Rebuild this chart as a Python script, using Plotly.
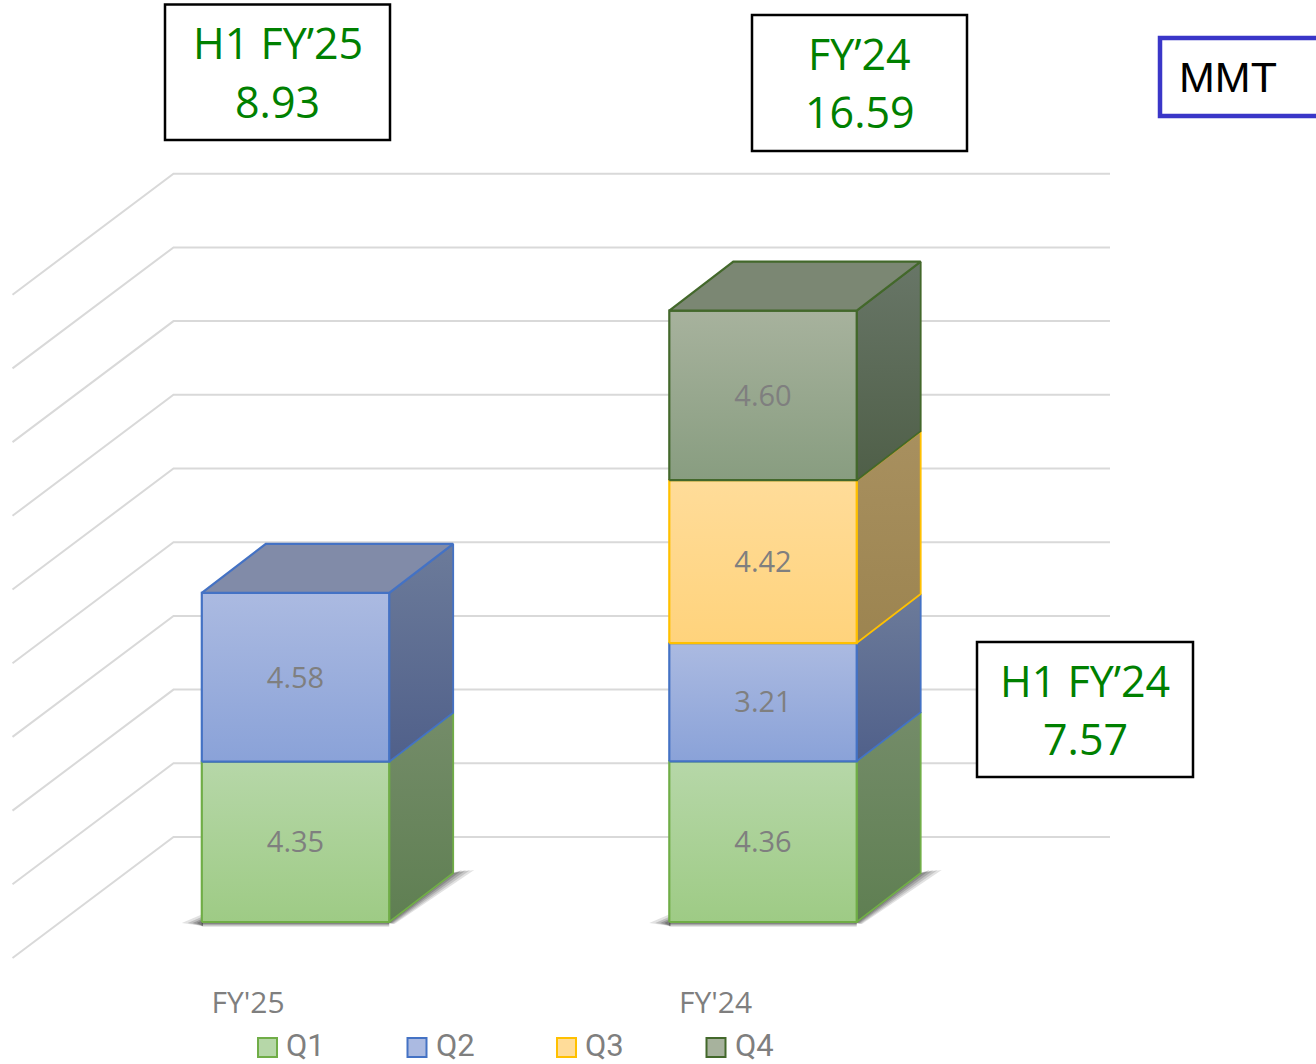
import plotly.graph_objects as go

# ---- data ----
categories = ["FY'25", "FY'24"]
quarters = ["Q1", "Q2", "Q3", "Q4"]
q1 = [4.35, 4.36]
q2 = [4.58, 3.21]
q3 = [None, 4.42]
q4 = [None, 4.60]
series = [q1, q2, q3, q4]
grid_values = [0, 2, 4, 6, 8, 10, 12, 14, 16, 18]

# ---- styles ----
W, H = 1316, 1064
FONT = "Open Sans"
GREY = "#7f7f7f"
GREEN = "#008000"
edge = ["#70ad47", "#4472c4", "#ffc000", "#43682b"]
front = [("#b6d7a8", "#9ecb85"), ("#abbae1", "#8aa2d8"), ("#ffdc99", "#ffd37c"), ("#a7b29d", "#889d80")]
side = [("#748c69", "#5f7f52"), ("#6c7b9a", "#50608a"), ("#a8905f", "#9c8450"), ("#687667", "#4f5f48")]
top = ["#7f8f78", "#818ba8", "#a8905f", "#7b8773"]

# ---- projection geometry (pixels per data unit) ----
PX_X = 467.5          # pixels between categories
PX_Y = 36.85          # pixels per value unit
X0_PX, Y0_PX = 295.5, 922   # pixel of category 0 / value 0
HALF = 93.7 / PX_X    # half bar width
DX, DY = 64 / PX_X, 49 / PX_Y   # bar depth
WALL_BACK = (837 - Y0_PX) / -PX_Y
WALL_FRONT = (958 - Y0_PX) / -PX_Y
WALL_L = (173.5 - X0_PX) / PX_X
WALL_R = (1110 - X0_PX) / PX_X
WALL_FL = (12.5 - X0_PX) / PX_X
LABEL_DROP = 3 / PX_Y
xr = [(0 - X0_PX) / PX_X, (W - X0_PX) / PX_X]
yr = [(Y0_PX - H) / PX_Y, Y0_PX / PX_Y]


def px(x):
    return x / W


def py(y):
    return 1 - y / H


fig = go.Figure()


def poly(xs, ys, color=None, grad=None, line=None, lw=2):
    kw = dict(x=xs + xs[:1], y=ys + ys[:1], mode="lines", fill="toself", showlegend=False, hoverinfo="skip",
              line=dict(color=line or "rgba(0,0,0,0)", width=lw))
    if grad:
        kw["fillgradient"] = dict(type="vertical", colorscale=[[0, grad[1]], [1, grad[0]]])
    else:
        kw["fillcolor"] = color
    fig.add_trace(go.Scatter(**kw))


# back wall and side wall grid lines
for v in grid_values:
    fig.add_trace(go.Scatter(x=[WALL_FL, WALL_L, WALL_R],
                             y=[v + WALL_FRONT, v + WALL_BACK, v + WALL_BACK],
                             mode="lines", line=dict(color="#d9d9d9", width=2),
                             showlegend=False, hoverinfo="skip"))

# bars
for i, cat in enumerate(categories):
    l, r = i - HALF, i + HALF
    ux, uy = 1 / PX_X, 1 / PX_Y
    # contact shadow, built from layers that fade outward
    for reach, alpha in ((21, 0.14), (17, 0.16), (13, 0.2), (9, 0.24), (5, 0.28)):
        poly([r - 3 * ux, r + DX, r + DX + reach * ux, r + reach * 0.25 * ux],
             [-1 * uy, DY, DY + 3 * uy, -reach * 0.1 * uy],
             color=f"rgba(50,50,50,{alpha})")
    for reach, alpha in ((20, 0.14), (14, 0.2), (9, 0.26), (5, 0.3)):
        poly([l - reach * ux, l + ux, l + ux], [-1 * uy, 8 * uy * reach / 20, -4 * uy],
             color=f"rgba(50,50,50,{alpha})")
    for depth, alpha in ((5, 0.12), (4, 0.16), (3, 0.22), (2, 0.3)):
        poly([l, r, r, l], [0, 0, -depth * uy, -depth * uy], color=f"rgba(50,50,50,{alpha})")

    base = 0
    last = max(k for k, s in enumerate(series) if s[i] is not None)
    for k, s in enumerate(series):
        v = s[i]
        if v is None:
            continue
        t = base + v
        # side face
        poly([r, r + DX, r + DX, r], [base, base + DY, t + DY, t], grad=side[k], line=edge[k], lw=1.8)
        # front face
        poly([l, r, r, l], [base, base, t, t], grad=front[k], line=edge[k], lw=2.2)
        if k == last:
            poly([l, r, r + DX, l + DX], [t, t, t + DY, t + DY], color=top[k], line=edge[k], lw=2.2)
        base = t

# value labels
for k, s in enumerate(series):
    xs, ys, txt = [], [], []
    for i in range(len(categories)):
        if s[i] is None:
            continue
        b = sum(series[j][i] or 0 for j in range(k))
        xs.append(i)
        ys.append(b + s[i] / 2 - LABEL_DROP)
        txt.append(f"{s[i]:.2f}")
    fig.add_trace(go.Scatter(x=xs, y=ys, text=txt, mode="text", textposition="middle center",
                             textfont=dict(family=FONT, size=29, color=GREY),
                             name=quarters[k], showlegend=False, hoverinfo="skip"))

shapes, annos = [], []


def box(x0, y0, x1, y1, color="black", width=2.5):
    shapes.append(dict(type="rect", xref="paper", yref="paper", x0=px(x0), x1=px(x1), y0=py(y1), y1=py(y0),
                       line=dict(color=color, width=width), fillcolor="white", layer="above"))


def label(x, y, text, size, color, anchor="center", family=FONT):
    annos.append(dict(xref="paper", yref="paper", x=px(x), y=py(y), text=text, showarrow=False,
                      xanchor=anchor, yanchor="middle", font=dict(family=family, size=size, color=color)))


box(165, 4.5, 390, 140)
label(277.5, 43, "H1 FY’25", 43, GREEN)
label(277.5, 101, "8.93", 43, GREEN)
box(752, 15, 967, 151)
label(859.5, 54, "FY’24", 43, GREEN)
label(859.5, 111, "16.59", 43, GREEN)
box(977, 642, 1193, 777)
label(1084.5, 680, "H1 FY’24", 43, GREEN)
label(1085, 738, "7.57", 43, GREEN)
box(1160, 38, 1325, 116, color="#3a36c8", width=4.5)
label(1227.5, 77.5, "MMT", 43, "black", family="Liberation Sans")

# legend
for k, q in enumerate(quarters):
    x0 = 258 + 149.5 * k
    shapes.append(dict(type="rect", xref="paper", yref="paper", x0=px(x0), x1=px(x0 + 19), y0=py(1057), y1=py(1038),
                       line=dict(color=edge[k], width=2), fillcolor=front[k][0], layer="above"))
    label(x0 + 26, 1045.5, q, 31, GREY, anchor="left", family="Roboto")

fig.update_layout(
    width=W, height=H, margin=dict(l=0, r=0, t=0, b=0), autosize=False,
    paper_bgcolor="white", plot_bgcolor="white", showlegend=False,
    shapes=shapes, annotations=annos,
    xaxis=dict(range=xr, showgrid=False, zeroline=False, showline=False, ticks="",
               tickmode="array", tickvals=[i - 47.5 / PX_X for i in range(len(categories))], ticktext=categories,
               tickfont=dict(family=FONT, size=30, color=GREY),
               anchor="free", position=(H - 982) / H),
    yaxis=dict(range=yr, showgrid=False, zeroline=False, showline=False, showticklabels=False, ticks=""),
)

fig.write_html("out.html", post_script="document.body.style.margin='0';", config=dict(displayModeBar=False))
